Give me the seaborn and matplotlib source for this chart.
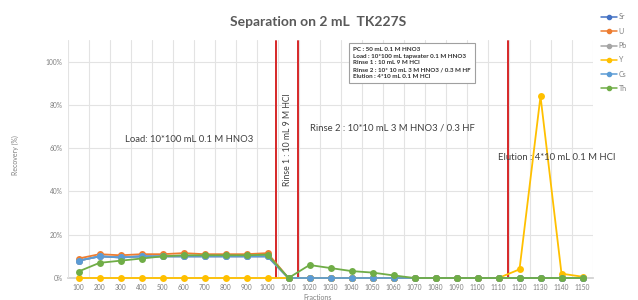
import numpy as np
import pandas as pd
import matplotlib
matplotlib.use('Agg')
import matplotlib.pyplot as plt
import seaborn as sns
from matplotlib.lines import Line2D

# fractions on the category axis
fractions = ['100', '200', '300', '400', '500', '600', '700', '800', '900', '1000',
             '1010', '1020', '1030', '1040', '1050', '1060', '1070', '1080', '1090', '1100',
             '1110', '1120', '1130', '1140', '1150']

# recovery (%) per element
sr = [8, 10, 9.5, 10, 10, 10, 10, 10, 10, 10, 0, 0, 0, 0, 0, 0, 0, 0, 0, 0, 0, 0, 0, 0, 0]
u = [9, 11, 10.5, 11, 11, 11.5, 11, 11, 11, 11.5, 0, 0, 0, 0, 0, 0, 0, 0, 0, 0, 0, 0, 0, 0, 0]
pb = [8, 10, 9.5, 10, 10, 10, 10, 10, 10, 10, 0, 0, 0, 0, 0, 0, 0, 0, 0, 0, 0, 0, 0, 0, 0]
y_ = [0, 0, 0, 0, 0, 0, 0, 0, 0, 0, 0, 0, 0, 0, 0, 0, 0, 0, 0, 0, 0, 4, 84, 2, 0.6]
cs = [8, 10, 9.5, 10, 10, 10, 10, 10, 10, 10, 0, 0, 0, 0, 0, 0, 0, 0, 0, 0, 0, 0, 0, 0, 0]
th = [3, 7, 8, 9, 10, 10.5, 10.5, 10.5, 10.5, 10.8, 0, 6, 4.6, 3.2, 2.5, 1.2, 0, 0, 0, 0, 0, 0, 0, 0, 0]

elements = ['Sr', 'U', 'Pb', 'Y', 'Cs', 'Th']
colors = ['#4472C4', '#ED7D31', '#A5A5A5', '#FFC000', '#5B9BD5', '#70AD47']

rows = []
for name, vals in zip(elements, [sr, u, pb, y_, cs, th]):
    for i, v in enumerate(vals):
        rows.append({'idx': i, 'recovery': v, 'element': name})
df = pd.DataFrame(rows)

sns.set_theme(style='white')
plt.rcParams['font.family'] = ['Lato', 'DejaVu Sans']

fig = plt.figure(figsize=(6.38, 3.0), dpi=100)
ax = fig.add_axes([68 / 638, 22 / 300, 525 / 638, 238 / 300])

sns.lineplot(data=df, x='idx', y='recovery', hue='element', hue_order=elements,
             palette=colors, marker='o', markersize=5, markeredgewidth=0,
             linewidth=1.3, legend=False, ax=ax, clip_on=False)

ax.set_xlim(-0.5, len(fractions) - 0.5)
ax.set_ylim(0, 110)
ax.set_xticks(range(len(fractions)))
ax.set_xticklabels(fractions, fontsize=4.8, color='#808080')
ax.set_yticks([0, 20, 40, 60, 80, 100])
ax.set_yticklabels(['0%', '20%', '40%', '60%', '80%', '100%'], fontsize=4.8, color='#808080')
ax.tick_params(length=0, pad=4)
ax.set_xticks(np.arange(-0.5, len(fractions), 1), minor=True)
ax.grid(True, which='minor', axis='x', color='#e3e3e3', linewidth=0.8)
ax.grid(True, which='major', axis='y', color='#e3e3e3', linewidth=0.8)
ax.set_xlabel('')
ax.set_ylabel('')
for s in ['top', 'right', 'left']:
    ax.spines[s].set_visible(False)
ax.spines['bottom'].set_color('#d0d0d0')
ax.spines['bottom'].set_zorder(0)

# step boundaries
for xv in [9.4, 10.45, 20.45]:
    ax.axvline(xv, color='#d62728', linewidth=1.4, ymax=0.995, zorder=1)

ax.text(5.26, 64, 'Load: 10*100 mL 0.1 M HNO3', fontsize=6.8, color='#404040',
        ha='center', va='center')
ax.text(9.93, 64, 'Rinse 1 : 10 mL 9 M HCl', fontsize=6.2, color='#404040',
        ha='center', va='center', rotation=90)
ax.text(14.93, 69.4, 'Rinse 2 : 10*10 mL 3 M HNO3 / 0.3 HF', fontsize=6.8, color='#404040',
        ha='center', va='center')
ax.text(19.98, 55.5, 'Elution : 4*10 mL 0.1 M HCl', fontsize=6.8, color='#404040',
        ha='left', va='center', clip_on=False)

box_txt = ('PC : 50 mL 0.1 M HNO3\n'
           'Load : 10*100 mL tapwater 0.1 M HNO3\n'
           'Rinse 1 : 10 mL 9 M HCl\n'
           'Rinse 2 : 10* 10 mL 3 M HNO3 / 0.3 M HF\n'
           'Elution : 4*10 mL 0.1 M HCl')
fig.text(353 / 638, 1 - 63 / 300, box_txt, fontsize=4.5, fontweight='bold', color='#303030',
         ha='left', va='center', linespacing=1.4,
         bbox=dict(boxstyle='square,pad=0.7', facecolor='white', edgecolor='#a0a0a0', linewidth=0.8))

fig.text(318 / 638, 1 - 22 / 300, 'Separation on 2 mL  TK227S', fontsize=10, fontweight='bold',
         color='#595959', ha='center', va='center')
fig.text(15 / 638, 1 - 155 / 300, 'Recovery (%)', fontsize=5, color='#808080',
         rotation=90, ha='center', va='center')
fig.text(318 / 638, 1 - 297 / 300, 'Fractions', fontsize=5, color='#808080',
         ha='center', va='center')

handles = [Line2D([0], [0], color=c, marker='o', markersize=3, linewidth=1.1) for c in colors]
fig.legend(handles, elements, loc='upper left', bbox_to_anchor=(598 / 638, 1 - 10 / 300),
           frameon=False, fontsize=5, labelcolor='#808080', handlelength=2.2,
           handletextpad=0.3, labelspacing=1.05, borderpad=0)

fig.savefig('out.png', dpi=100)
